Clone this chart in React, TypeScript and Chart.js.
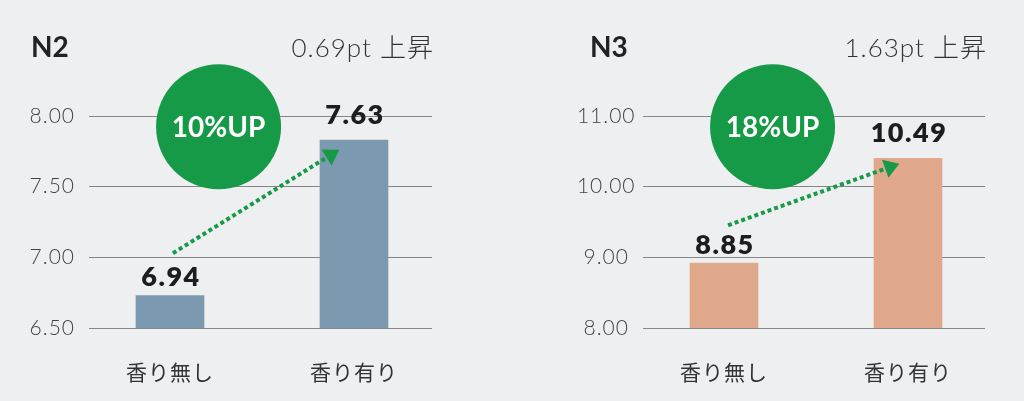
import React, { useEffect, useRef } from "react";
import { Chart, registerables } from "chart.js";

Chart.register(...registerables);

const FONT = "Lato, 'Noto Sans CJK JP', sans-serif";
const GREEN = "#169a47";

const categories = ["香り無し", "香り有り"];

// N2 panel
const n2Bars = [6.73, 7.83];
const n2Shown = ["6.94", "7.63"];
const n2Ticks = [6.5, 7.0, 7.5, 8.0];
const n2Badge = [0.264, 7.924];
const n2ArrowFrom = [0.016, 7.029];
const n2ArrowTo = [0.92, 7.762];

// N3 panel
const n3Bars = [8.92, 10.4];
const n3Shown = ["8.85", "10.49"];
const n3Ticks = [8, 9, 10, 11];
const n3Badge = [0.264, 10.847];
const n3ArrowFrom = [0.022, 9.453];
const n3ArrowTo = [0.953, 10.326];

type PanelSpec = {
  title: string;
  gain: string;
  badge: string;
  bars: number[];
  shown: string[];
  ticks: number[];
  badgeAt: number[];
  arrowFrom: number[];
  arrowTo: number[];
  color: string;
  axisWidth: number;
  padRight: number;
  tickPad: number;
  xMin: number;
  xMax: number;
  titleX: number;
};

const panels: PanelSpec[] = [
  {
    title: "N2",
    gain: "0.69pt 上昇",
    badge: "10%UP",
    bars: n2Bars,
    shown: n2Shown,
    ticks: n2Ticks,
    badgeAt: n2Badge,
    arrowFrom: n2ArrowFrom,
    arrowTo: n2ArrowTo,
    color: "#7c9aaf",
    axisWidth: 89,
    padRight: 80,
    tickPad: 16,
    xMin: -0.4402,
    xMax: 1.424,
    titleX: 31,
  },
  {
    title: "N3",
    gain: "1.63pt 上昇",
    badge: "18%UP",
    bars: n3Bars,
    shown: n3Shown,
    ticks: n3Ticks,
    badgeAt: n3Badge,
    arrowFrom: n3ArrowFrom,
    arrowTo: n3ArrowTo,
    color: "#e0a98b",
    axisWidth: 131,
    padRight: 39,
    tickPad: 10,
    xMin: -0.4402,
    xMax: 1.4185,
    titleX: 78,
  },
];

const labelLift = [18, 25];

const overlay = (p: PanelSpec) => ({
  id: "overlay",
  beforeDraw: (chart: Chart) => {
    // the light tick font is a little tighter than the original
    (chart.ctx as any).letterSpacing = "1px";
  },
  afterDatasetsDraw: (chart: Chart) => {
    const { ctx, scales } = chart;
    const xs = scales.x;
    const ys = scales.y;
    ctx.save();

    // values above bars
    const meta = chart.getDatasetMeta(0);
    ctx.font = `800 27px ${FONT}`;
    ctx.fillStyle = "#1d1d1d";
    ctx.textAlign = "center";
    ctx.textBaseline = "middle";
    (ctx as any).letterSpacing = "1.5px";
    meta.data.forEach((bar, i) => {
      ctx.fillText(p.shown[i], bar.x + 1, bar.y - labelLift[i]);
    });
    (ctx as any).letterSpacing = "0px";

    // dotted arrow
    const x0 = xs.getPixelForValue(p.arrowFrom[0]);
    const y0 = ys.getPixelForValue(p.arrowFrom[1]);
    const x1 = xs.getPixelForValue(p.arrowTo[0]);
    const y1 = ys.getPixelForValue(p.arrowTo[1]);
    const ang = Math.atan2(y1 - y0, x1 - x0);
    const ux = Math.cos(ang);
    const uy = Math.sin(ang);
    const bx = x1 - 15 * ux;
    const by = y1 - 15 * uy;
    ctx.strokeStyle = GREEN;
    ctx.lineWidth = 4;
    ctx.setLineDash([4, 3]);
    ctx.beginPath();
    ctx.moveTo(x0, y0);
    ctx.lineTo(bx, by);
    ctx.stroke();
    ctx.setLineDash([]);
    ctx.fillStyle = GREEN;
    ctx.beginPath();
    ctx.moveTo(x1, y1);
    ctx.lineTo(bx - 9.5 * uy, by + 9.5 * ux);
    ctx.lineTo(bx + 9.5 * uy, by - 9.5 * ux);
    ctx.closePath();
    ctx.fill();

    // green badge
    const cx = xs.getPixelForValue(p.badgeAt[0]);
    const cy = ys.getPixelForValue(p.badgeAt[1]);
    ctx.beginPath();
    ctx.arc(cx, cy, 62.5, 0, Math.PI * 2);
    ctx.fill();
    ctx.fillStyle = "#ffffff";
    ctx.font = `700 28px ${FONT}`;
    ctx.fillText(p.badge, cx, cy + 1);
    ctx.restore();
  },
  afterDraw: (chart: Chart) => {
    const { ctx, chartArea } = chart;
    ctx.save();
    (ctx as any).letterSpacing = "0px";
    ctx.textBaseline = "alphabetic";
    ctx.fillStyle = "#222222";
    ctx.textAlign = "left";
    ctx.font = `700 28px ${FONT}`;
    ctx.fillText(p.title, p.titleX, 57);
    ctx.fillStyle = "#333333";
    ctx.textAlign = "right";
    ctx.font = `300 26px ${FONT}`;
    (ctx as any).letterSpacing = "1px";
    ctx.fillText(p.gain, chartArea.right + 2, 57);
    ctx.restore();
    (ctx as any).letterSpacing = "0px";
  },
});

const Panel = ({ p }: { p: PanelSpec }) => {
  const canvasRef = useRef<HTMLCanvasElement>(null);

  useEffect(() => {
    const ctx = canvasRef.current?.getContext("2d");
    if (!ctx) return;

    const chart = new Chart(ctx, {
      type: "bar",
      data: {
        datasets: [
          {
            data: p.bars.map((v, i) => ({ x: i, y: v })),
            backgroundColor: p.color,
            borderWidth: 0,
            barThickness: 68,
          },
        ],
      },
      options: {
        responsive: false,
        animation: false,
        layout: { padding: { top: 116, right: p.padRight, left: 0, bottom: 0 } },
        scales: {
          x: {
            type: "linear",
            offset: false,
            min: p.xMin,
            max: p.xMax,
            grid: { display: false, drawTicks: false, offset: false },
            border: { display: false },
            afterBuildTicks: (s: any) => {
              s.ticks = categories.map((_, i) => ({ value: i }));
            },
            afterFit: (s: any) => {
              s.height = 73;
            },
            ticks: {
              callback: (v: any) => categories[Number(v)] ?? "",
              font: { family: FONT, size: 21, weight: 400 },
              color: "#333333",
              padding: 33,
              maxRotation: 0,
              autoSkip: false,
            },
          },
          y: {
            min: p.ticks[0],
            max: p.ticks[p.ticks.length - 1],
            grid: { color: "#858585", lineWidth: 1, drawTicks: false },
            border: { display: false },
            afterBuildTicks: (s: any) => {
              s.ticks = p.ticks.map((v) => ({ value: v }));
            },
            afterFit: (s: any) => {
              s.width = p.axisWidth;
            },
            ticks: {
              callback: (v: any) => Number(v).toFixed(2),
              font: { family: FONT, size: 21, weight: 300 },
              color: "#444444",
              crossAlign: "center",
              padding: p.tickPad,
            },
          },
        },
        plugins: {
          legend: { display: false },
          tooltip: { enabled: false },
        },
      },
      plugins: [overlay(p)],
    });

    return () => {
      chart.destroy();
    };
  }, [p]);

  return <canvas ref={canvasRef} width={512} height={401} style={{ display: "block" }} />;
};

export default function App() {
  return (
    <div
      style={{
        position: "fixed",
        left: 0,
        top: 0,
        width: 1024,
        height: 401,
        background: "#eeeff0",
        display: "flex",
      }}
    >
      {panels.map((p) => (
        <Panel key={p.title} p={p} />
      ))}
    </div>
  );
}
